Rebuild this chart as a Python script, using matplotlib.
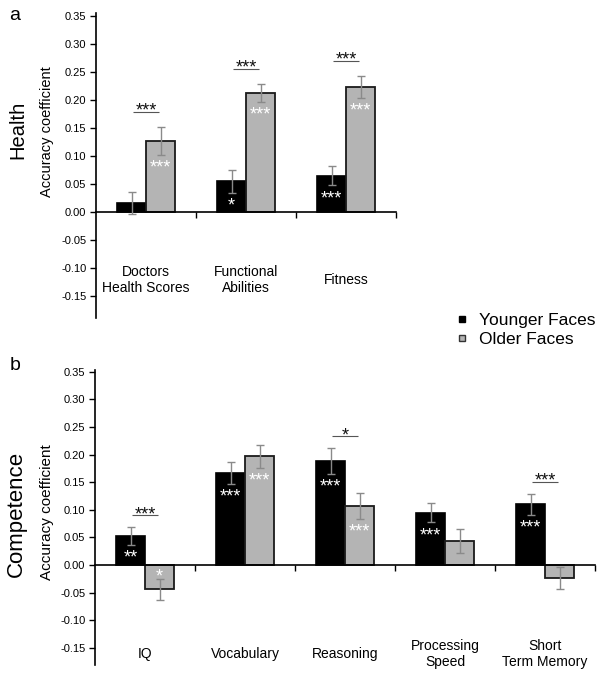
import matplotlib
matplotlib.use("Agg")
import matplotlib.pyplot as plt
from matplotlib.lines import Line2D
import numpy as np

plt.rcParams['font.family'] = ['Liberation Sans', 'DejaVu Sans']
plt.rcParams['axes.unicode_minus'] = False

# ---------------- data ----------------
health_cats = ["Doctors\nHealth Scores", "Functional\nAbilities", "Fitness"]
health_young = [0.016, 0.054, 0.064]
health_young_err = [0.020, 0.021, 0.017]
health_old = [0.126, 0.212, 0.223]
health_old_err = [0.025, 0.016, 0.020]
health_young_sig = ["", "*", "***"]
health_old_sig = ["***", "***", "***"]
health_pair_sig = ["***", "***", "***"]

comp_cats = ["IQ", "Vocabulary", "Reasoning", "Processing\nSpeed", "Short\nTerm Memory"]
comp_young = [0.052, 0.167, 0.188, 0.095, 0.110]
comp_young_err = [0.016, 0.020, 0.023, 0.018, 0.019]
comp_old = [-0.044, 0.197, 0.107, 0.044, -0.023]
comp_old_err = [0.019, 0.021, 0.0235, 0.022, 0.020]
comp_young_sig = ["**", "***", "***", "***", "***"]
comp_old_sig = ["*", "***", "***", "", ""]
comp_pair_sig = ["***", "", "*", "", "***"]

yticks = [-0.15, -0.10, -0.05, 0.00, 0.05, 0.10, 0.15, 0.20, 0.25, 0.30, 0.35]
legend_labels = ["Younger Faces", "Older Faces"]

BLACK = "#000000"
GRAY = "#b4b4b4"
ERRC = "#8a8a8a"

fig = plt.figure(figsize=(6.03, 6.81), dpi=100)

W = 603.0
H = 681.0


def px_axes(left, top, right, bottom):
    return fig.add_axes([left / W, (H - bottom) / H, (right - left) / W, (bottom - top) / H])


def star_note(ax, x, yc, s, color, fs=13):
    ax.annotate(s, (x, yc), xytext=(0, -0.55 * fs), textcoords="offset points",
                ha="center", va="baseline", fontsize=fs, color=color)


def panel(ax, cats, yv, ye, ov, oe, ysig, osig, psig, ylim, label_y, br_off):
    n = len(cats)
    x = np.arange(n)
    bw = 0.29
    ax.bar(x - bw / 2, yv, bw, color=BLACK, edgecolor=BLACK, linewidth=1.2, zorder=2)
    ax.bar(x + bw / 2, ov, bw, color=GRAY, edgecolor="#1a1a1a", linewidth=1.3, zorder=2)
    ax.errorbar(x - bw / 2, yv, yerr=ye, fmt="none", ecolor=ERRC, elinewidth=1.0,
                capsize=3, capthick=1.0, zorder=3)
    ax.errorbar(x + bw / 2, ov, yerr=oe, fmt="none", ecolor=ERRC, elinewidth=1.0,
                capsize=3, capthick=1.0, zorder=3)
    for i in range(n):
        for val, err, s, xx in ((yv[i], ye[i], ysig[i], x[i] - bw / 2),
                                (ov[i], oe[i], osig[i], x[i] + bw / 2)):
            if s:
                if val >= 0:
                    yc = val - err - 0.014
                else:
                    yc = val + err + 0.013
                star_note(ax, xx, yc, s, "white")
        if psig[i]:
            top = max(yv[i] + ye[i], ov[i] + oe[i])
            ly = top + br_off
            ax.plot([x[i] - 0.13, x[i] + 0.13], [ly, ly], color="#555555", lw=0.8,
                    zorder=3, solid_capstyle="butt")
            star_note(ax, x[i], ly + 0.011, psig[i], "#111111")
        ax.text(x[i], label_y, cats[i], ha="center", va="center", fontsize=10,
                linespacing=1.15)
    ax.set_xlim(-0.5, n - 0.5)
    ax.set_ylim(*ylim)
    ax.set_yticks(yticks)
    ax.set_yticklabels(["%.2f" % v for v in yticks], fontsize=8)
    ax.set_xticks(np.arange(n) + 0.5)
    ax.set_xticklabels([])
    ax.spines["top"].set_visible(False)
    ax.spines["right"].set_visible(False)
    ax.spines["bottom"].set_position(("data", 0))
    ax.spines["left"].set_linewidth(1.2)
    ax.spines["bottom"].set_linewidth(1.2)
    ax.tick_params(axis="y", direction="out", length=4, width=1, pad=3)
    ax.tick_params(axis="x", direction="out", length=4, width=1)
    ax.set_facecolor("none")


ax1 = px_axes(96, 13, 396, 318)
panel(ax1, health_cats, health_young, health_young_err, health_old, health_old_err,
      health_young_sig, health_old_sig, health_pair_sig, (-0.19, 0.355), -0.122, 0.027)

ax2 = px_axes(95, 370, 595, 665)
panel(ax2, comp_cats, comp_young, comp_young_err, comp_old, comp_old_err,
      comp_young_sig, comp_old_sig, comp_pair_sig, (-0.181, 0.353), -0.161, 0.022)

# axis labels
fig.text(47.5 / W, 1 - 132 / H, "Accuracy coefficient", rotation=90, ha="center",
         va="center", fontsize=10.5)
fig.text(47.5 / W, 1 - 512 / H, "Accuracy coefficient", rotation=90, ha="center",
         va="center", fontsize=11)
fig.text(17.5 / W, 1 - 130 / H, "Health", rotation=90, ha="center", va="center",
         fontsize=14.5)
fig.text(16 / W, 1 - 514 / H, "Competence", rotation=90, ha="center", va="center",
         fontsize=16)
fig.text(15 / W, 1 - 15 / H, "a", ha="center", va="center", fontsize=14)
fig.text(15 / W, 1 - 366 / H, "b", ha="center", va="center", fontsize=14)

handles = [Line2D([], [], marker="s", linestyle="none", markersize=5,
                  markerfacecolor=BLACK, markeredgecolor=BLACK),
           Line2D([], [], marker="s", linestyle="none", markersize=5,
                  markerfacecolor=GRAY, markeredgecolor="#333333")]
fig.legend(handles, legend_labels, loc="center left",
           bbox_to_anchor=(439 / W, 1 - 330 / H), frameon=False, fontsize=12.5,
           handlelength=0.8, handletextpad=0.6, labelspacing=0.2, borderpad=0.4)

fig.savefig("out.png", dpi=100)
